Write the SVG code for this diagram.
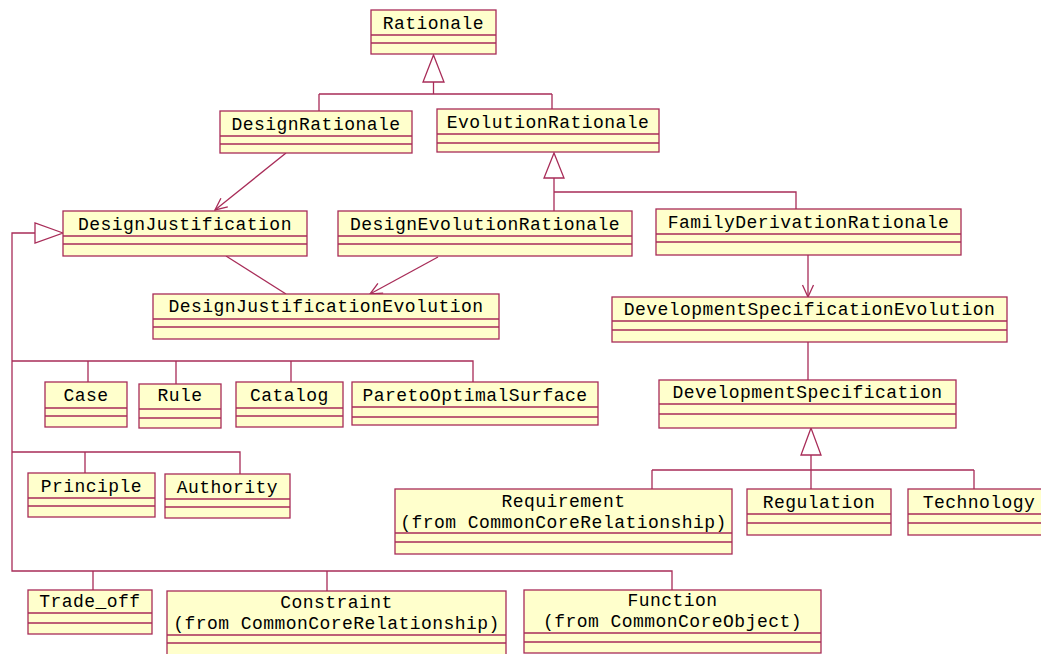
<svg xmlns="http://www.w3.org/2000/svg" width="1041" height="654" viewBox="0 0 1041 654">
<style>
.b{fill:#ffffcc;stroke:#a82c58;stroke-width:1.3}
.l{stroke:#a82c58;stroke-width:1.3;fill:none}
.c{stroke:#a82c58;stroke-width:1.3;fill:none}
.g{stroke:#a82c58;stroke-width:1.3;fill:#ffffff}
text{font-family:"Liberation Mono","DejaVu Sans Mono",monospace;font-size:18px;letter-spacing:0.45px;fill:#000;text-anchor:middle}
</style>
<defs>
<marker id="open" viewBox="0 0 14 14" refX="13" refY="7" markerWidth="14" markerHeight="14" markerUnits="userSpaceOnUse" orient="auto">
<path d="M1,1.5 L13,7 L1,12.5" fill="none" stroke="#a82c58" stroke-width="1.3"/>
</marker>
</defs>
<rect width="1041" height="654" fill="#ffffff"/>

<g id="connectors">
<!-- Rationale generalization -->
<polygon class="g" points="433.5,55 423,82 444,82"/>
<path class="c" d="M433.5,82 V94 M319,94 H552 M319,94 V111 M552,94 V109"/>
<!-- EvolutionRationale generalization -->
<polygon class="g" points="554,153 544,178 564,178"/>
<path class="c" d="M554,178 V211 M554,192 H796 V209"/>
<!-- DesignRationale -> DesignJustification -->
<path class="c" d="M286,153 L215,210" marker-end="url(#open)"/>
<!-- DesignJustification - DJE -->
<path class="c" d="M226,256 L286,294"/>
<!-- DER -> DJE -->
<path class="c" d="M438,257 L370,294" marker-end="url(#open)"/>
<!-- FDR -> DSE -->
<path class="c" d="M808,255 V297" marker-end="url(#open)"/>
<!-- DSE - DS -->
<path class="c" d="M808,342 V380"/>
<!-- DS generalization -->
<polygon class="g" points="811,428 801,455 821,455"/>
<path class="c" d="M811,455 V489 M652,470 H974 M652,470 V489 M974,470 V489"/>
<!-- DesignJustification generalization -->
<polygon class="g" points="63,233 35,223 35,243"/>
<path class="c" d="M35,233 H12 V571 H672 V590 M93,571 V590 M327,571 V591"/>
<path class="c" d="M12,361 H473 V382 M88,361 V382 M176,361 V384 M291,361 V382"/>
<path class="c" d="M12,452 H240 V474 M85,452 V473"/>
</g>

<g id="Rationale"><rect class="b" x="371" y="10" width="125" height="44"/><path class="l" d="M371,35 H496 M371,43 H496"/><text x="433.5" y="29">Rationale</text></g>
<g id="DesignRationale"><rect class="b" x="220" y="111" width="192" height="42"/><path class="l" d="M220,136 H412 M220,144 H412"/><text x="316" y="130">DesignRationale</text></g>
<g id="EvolutionRationale"><rect class="b" x="437" y="109" width="222" height="43"/><path class="l" d="M437,134 H659 M437,143 H659"/><text x="548" y="128">EvolutionRationale</text></g>
<g id="DesignJustification"><rect class="b" x="63" y="211" width="244" height="45"/><path class="l" d="M63,236 H307 M63,244 H307"/><text x="185" y="230">DesignJustification</text></g>
<g id="DesignEvolutionRationale"><rect class="b" x="338" y="211" width="294" height="45"/><path class="l" d="M338,236 H632 M338,244 H632"/><text x="485" y="230">DesignEvolutionRationale</text></g>
<g id="FamilyDerivationRationale"><rect class="b" x="656" y="209" width="305" height="46"/><path class="l" d="M656,234 H961 M656,242 H961"/><text x="808.5" y="228">FamilyDerivationRationale</text></g>
<g id="DesignJustificationEvolution"><rect class="b" x="153" y="294" width="346" height="45"/><path class="l" d="M153,319 H499 M153,327 H499"/><text x="326" y="312">DesignJustificationEvolution</text></g>
<g id="DevelopmentSpecificationEvolution"><rect class="b" x="612" y="297" width="395" height="45"/><path class="l" d="M612,321 H1007 M612,330 H1007"/><text x="809.5" y="315">DevelopmentSpecificationEvolution</text></g>
<g id="DevelopmentSpecification"><rect class="b" x="659" y="380" width="297" height="48"/><path class="l" d="M659,404 H956 M659,414 H956"/><text x="807.5" y="398">DevelopmentSpecification</text></g>
<g id="Case"><rect class="b" x="45" y="382" width="82" height="45"/><path class="l" d="M45,408 H127 M45,416 H127"/><text x="86" y="401">Case</text></g>
<g id="Rule"><rect class="b" x="139" y="384" width="82" height="44"/><path class="l" d="M139,409 H221 M139,418 H221"/><text x="180" y="401">Rule</text></g>
<g id="Catalog"><rect class="b" x="236" y="382" width="107" height="45"/><path class="l" d="M236,408 H343 M236,416 H343"/><text x="289.5" y="401">Catalog</text></g>
<g id="ParetoOptimalSurface"><rect class="b" x="352" y="382" width="246" height="43"/><path class="l" d="M352,407 H598 M352,417 H598"/><text x="475" y="401">ParetoOptimalSurface</text></g>
<g id="Principle"><rect class="b" x="28" y="473" width="127" height="44"/><path class="l" d="M28,498 H155 M28,506 H155"/><text x="91.5" y="492">Principle</text></g>
<g id="Authority"><rect class="b" x="165" y="474" width="125" height="44"/><path class="l" d="M165,499 H290 M165,507 H290"/><text x="227.5" y="493">Authority</text></g>
<g id="Requirement"><rect class="b" x="395" y="489" width="337" height="65"/><path class="l" d="M395,533 H732 M395,542 H732"/><text x="563.5" y="507">Requirement</text><text x="563.5" y="528">(from CommonCoreRelationship)</text></g>
<g id="Regulation"><rect class="b" x="747" y="489" width="144" height="46"/><path class="l" d="M747,514 H891 M747,523 H891"/><text x="819" y="508">Regulation</text></g>
<g id="Technology"><rect class="b" x="908" y="489" width="142" height="46"/><path class="l" d="M908,514 H1050 M908,523 H1050"/><text x="979" y="508">Technology</text></g>
<g id="Trade_off"><rect class="b" x="28" y="590" width="124" height="44"/><path class="l" d="M28,613 H152 M28,623 H152"/><text x="90" y="607">Trade_off</text></g>
<g id="Constraint"><rect class="b" x="167" y="591" width="339" height="70"/><path class="l" d="M167,635 H506 M167,643 H506"/><text x="336.5" y="608">Constraint</text><text x="336.5" y="629">(from CommonCoreRelationship)</text></g>
<g id="Function"><rect class="b" x="524" y="590" width="297" height="63"/><path class="l" d="M524,633 H821 M524,642 H821"/><text x="672.5" y="606">Function</text><text x="672.5" y="627">(from CommonCoreObject)</text></g>
</svg>
